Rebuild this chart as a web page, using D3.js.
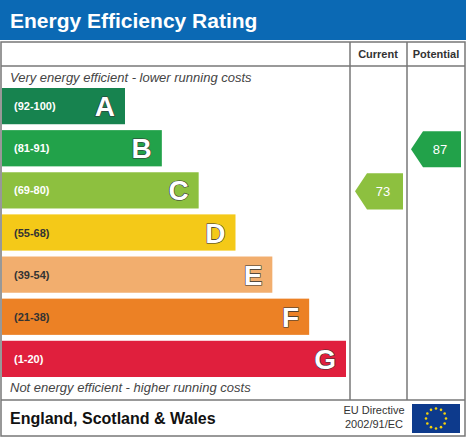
<!DOCTYPE html>
<html><head><meta charset="utf-8">
<script src="https://cdn.jsdelivr.net/npm/d3@7"></script>
<style>body{margin:0;background:#fff}</style>
</head><body><div id="chart"></div>
<script>
// bands, top to bottom
const letters = ["A", "B", "C", "D", "E", "F", "G"]
const ranges = ["(92-100)", "(81-91)", "(69-80)", "(55-68)", "(39-54)", "(21-38)", "(1-20)"]
const colors = ["#17834f", "#22a24a", "#8dc03f", "#f4c918", "#f2ae6e", "#ec8125", "#e01f3d"]
const minScores = [92, 81, 69, 55, 39, 21, 1]
const currentScore = 73
const potentialScore = 87

const W = 466, H = 437
const svg = d3.select("#chart").append("svg").attr("width", W).attr("height", H)
  .style("font-family", "Arial, 'Liberation Sans', sans-serif")

// header
svg.append("rect").attr("x", 0).attr("y", 0).attr("width", W).attr("height", 40).attr("fill", "#0b69b4")
svg.append("text").attr("x", 10).attr("y", 28).attr("fill", "#fff").attr("font-size", 21).attr("font-weight", "bold")
  .text("Energy Efficiency Rating")

// frame
const g = svg.append("g").attr("stroke", "#777").attr("stroke-width", 1.5).attr("fill", "none")
g.append("rect").attr("x", 1).attr("y", 42).attr("width", W - 2).attr("height", H - 43)
g.append("line").attr("x1", 1).attr("x2", W - 1).attr("y1", 66).attr("y2", 66)
g.append("line").attr("x1", 1).attr("x2", W - 1).attr("y1", 400).attr("y2", 400)
g.append("line").attr("x1", 350).attr("x2", 350).attr("y1", 42).attr("y2", 400)
g.append("line").attr("x1", 407).attr("x2", 407).attr("y1", 42).attr("y2", 400)

svg.append("text").attr("x", 378).attr("y", 58).attr("text-anchor", "middle").attr("font-size", 11).attr("font-weight", "bold").attr("fill", "#333").text("Current")
svg.append("text").attr("x", 436).attr("y", 58).attr("text-anchor", "middle").attr("font-size", 11).attr("font-weight", "bold").attr("fill", "#333").text("Potential")

svg.append("text").attr("x", 10).attr("y", 82).attr("font-size", 13).attr("font-style", "italic").attr("fill", "#444")
  .text("Very energy efficient - lower running costs")
svg.append("text").attr("x", 10).attr("y", 392).attr("font-size", 13).attr("font-style", "italic").attr("fill", "#444")
  .text("Not energy efficient - higher running costs")

// bars
const y = d3.scaleBand().domain(letters).range([88, 377]).paddingInner(0.14)
const w = d3.scaleLinear().domain([0, 6]).range([123, 344])
letters.forEach((l, i) => {
  svg.append("rect").attr("x", 2).attr("y", y(l)).attr("width", w(i)).attr("height", y.bandwidth()).attr("fill", colors[i])
  svg.append("text").attr("x", 14).attr("y", y(l) + y.bandwidth() / 2 + 4).attr("font-size", 11).attr("font-weight", "bold")
    .attr("fill", i >= 3 && i <= 5 ? "#333" : "#fff").attr("fill", i == 3 || i == 4 ? "#333" : (i == 5 ? "#333" : "#fff")).text(ranges[i])
  svg.append("text").attr("x", w(i) - 8).attr("y", y(l) + y.bandwidth() / 2 + 10).attr("text-anchor", "end")
    .attr("font-size", 28).attr("font-weight", "bold").attr("fill", "#fff")
    .attr("stroke", "#333").attr("stroke-width", 1.2).attr("paint-order", "stroke").text(l)
})

function band(score) { return minScores.findIndex(m => score >= m) }
function arrow(score, x0, x1) {
  const i = band(score), top = y(letters[i]) + 1, h = y.bandwidth()
  svg.append("path").attr("fill", colors[i])
    .attr("d", `M${x0},${top + h / 2}L${x0 + 12},${top}H${x1}V${top + h}H${x0 + 12}Z`)
  svg.append("text").attr("x", (x0 + 12 + x1) / 2 - 2).attr("y", top + h / 2 + 5).attr("text-anchor", "middle")
    .attr("font-size", 13).attr("fill", "#fff").text(score)
}
arrow(currentScore, 355, 403)
arrow(potentialScore, 411, 461)

// footer
svg.append("text").attr("x", 10).attr("y", 424).attr("font-size", 16).attr("font-weight", "bold").attr("fill", "#111")
  .text("England, Scotland & Wales")
svg.append("text").attr("x", 374).attr("y", 414).attr("text-anchor", "middle").attr("font-size", 11).attr("fill", "#333").text("EU Directive")
svg.append("text").attr("x", 374).attr("y", 428).attr("text-anchor", "middle").attr("font-size", 11).attr("fill", "#333").text("2002/91/EC")
svg.append("rect").attr("x", 412).attr("y", 404).attr("width", 48).attr("height", 29).attr("fill", "#0d3a8c")
d3.range(12).forEach(k => {
  const a = k / 12 * 2 * Math.PI
  svg.append("circle").attr("cx", 436 + 10 * Math.sin(a)).attr("cy", 418.5 - 10 * Math.cos(a)).attr("r", 1.3).attr("fill", "#f5d20a")
})
</script></body></html>
